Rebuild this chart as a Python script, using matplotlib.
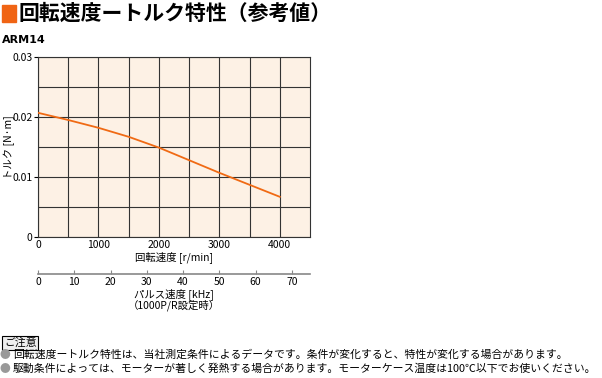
import numpy as np
import matplotlib.pyplot as plt
from matplotlib.patches import Rectangle

plt.rcParams['font.family'] = ['Noto Sans CJK JP', 'DejaVu Sans']

# Data
speed_rpm = [0, 500, 1000, 1500, 2000, 2500, 3000, 3500, 4000]
torque_Nm = [0.0207, 0.0195, 0.0182, 0.0167, 0.0149, 0.0128, 0.0107, 0.0087, 0.0067]

x_ticks = [0, 1000, 2000, 3000, 4000]
y_ticks = [0, 0.01, 0.02, 0.03]
y_tick_labels = ["0", "0.01", "0.02", "0.03"]
pulse_ticks = [0, 10, 20, 30, 40, 50, 60, 70]

notes = [
    "回転速度ートルク特性は、当社測定条件によるデータです。条件が変化すると、特性が変化する場合があります。",
    "駆動条件によっては、モーターが著しく発熱する場合があります。モーターケース温度は100℃以下でお使いください。",
]

W, H = 602, 378
fig = plt.figure(figsize=(W / 100, H / 100), dpi=100)

# Title
fig.patches.append(Rectangle((2 / W, 1 - 22 / H), 14 / W, 17 / H,
                             transform=fig.transFigure, color='#f06414'))
fig.text(19 / W, 1 - 13 / H, "回転速度ートルク特性（参考値）", fontsize=15,
         fontweight='bold', va='center', ha='left')
fig.text(2 / W, 1 - 40 / H, "ARM14", fontsize=8, fontweight='bold',
         va='center', ha='left', family='DejaVu Sans')

# Main plot
left, right, top, bottom = 38, 310, 57, 237
ax = fig.add_axes([left / W, 1 - bottom / H, (right - left) / W, (bottom - top) / H])
ax.set_facecolor('#fdf1e5')
ax.plot(speed_rpm, torque_Nm, color='#f06a14', lw=1.3, zorder=3)
ax.set_xlim(0, 4500)
ax.set_ylim(0, 0.03)
ax.set_xticks(x_ticks)
ax.set_xticks(np.arange(500, 4500, 1000), minor=True)
ax.set_yticks(y_ticks)
ax.set_yticklabels(y_tick_labels)
ax.set_yticks([0.005, 0.015, 0.025], minor=True)
ax.grid(True, which='both', color='#333333', lw=0.8)
ax.tick_params(axis='both', which='major', labelsize=7.5, length=3, pad=1)
ax.tick_params(axis='both', which='minor', length=0)
ax.tick_params(axis='x', length=0, pad=2)
for s in ax.spines.values():
    s.set_color('#333333')
    s.set_linewidth(0.8)
ax.set_xlabel("回転速度 [r/min]", fontsize=7.5, labelpad=1)
ax.set_ylabel("トルク [N·m]", fontsize=7.5, va='center')
ax.yaxis.set_label_coords(-(left - 9) / (right - left), 0.5)

# Pulse speed axis
ax2 = fig.add_axes([left / W, 1 - 274 / H, (right - left) / W, 0.0001])
ax2.set_xlim(0, 75)
ax2.set_yticks([])
ax2.set_xticks(pulse_ticks)
for k in ['top', 'left', 'right']:
    ax2.spines[k].set_visible(False)
ax2.spines['bottom'].set_color('#888888')
ax2.spines['bottom'].set_linewidth(1.2)
ax2.tick_params(axis='x', direction='in', length=3, color='#888888',
                labelsize=7.5, pad=2)
ax2.patch.set_visible(False)
ax2.set_xlabel("パルス速度 [kHz]\n（1000P/R設定時）", fontsize=7.5,
               labelpad=1, linespacing=0.95)

# Notes
fig.text(4 / W, 1 - 343 / H, "ご注意", fontsize=7.8, va='center', ha='left',
         bbox=dict(boxstyle='square,pad=0.15', fc='#eeeeee', ec='black', lw=0.8))
for i, note in enumerate(notes):
    y = 1 - (355 + 14 * i) / H
    fig.text(0 / W, y, "●", fontsize=7.8, va='center', ha='left', color='#999999')
    fig.text(13 / W, y, note, fontsize=7.8, va='center', ha='left')

fig.savefig("out.png", dpi=100)
